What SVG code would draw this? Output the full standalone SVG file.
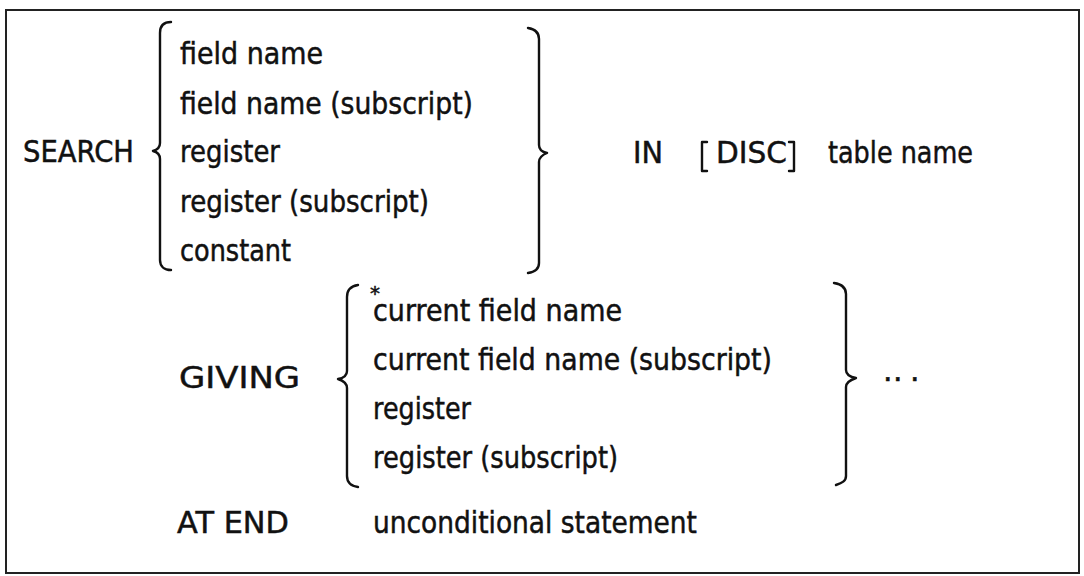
<svg xmlns="http://www.w3.org/2000/svg" width="1084" height="576" viewBox="0 0 1084 576">
<style>
text{font-family:"DejaVu Sans","Liberation Sans",sans-serif;font-size:30px;fill:#111;stroke:#111;stroke-width:0.5}
.br{fill:none;stroke:#111;stroke-width:2.4;stroke-linecap:round;stroke-linejoin:round}
.frame{fill:none;stroke:#222;stroke-width:2}
.ast{font-size:20px}
</style>
<rect class="frame" x="6" y="10" width="1073" height="563"/>
<g id="search">
<text x="23" y="162" textLength="111" lengthAdjust="spacingAndGlyphs">SEARCH</text>
</g>
<g id="search-options">
<path class="br" d="M171,22 C164,22 160,25 160,33 L160,143 C160,147 157,150 153,151 C157,152 160,155 160,159 L160,260 C160,266 164,270 171,270"/>
<text x="180" y="64" textLength="143" lengthAdjust="spacingAndGlyphs">field name</text>
<text x="180" y="114" textLength="293" lengthAdjust="spacingAndGlyphs">field name (subscript)</text>
<text x="180" y="162" textLength="100" lengthAdjust="spacingAndGlyphs">register</text>
<text x="180" y="212" textLength="249" lengthAdjust="spacingAndGlyphs">register (subscript)</text>
<text x="180" y="261" textLength="111" lengthAdjust="spacingAndGlyphs">constant</text>
<path class="br" d="M528,28 C535,29 539,32 539,39 L539,145 C539,149 542,152 547,153 C542,155 539,158 539,162 L539,263 C539,269 535,272 528,273"/>
</g>
<g id="in-clause">
<text x="633" y="163" textLength="30" lengthAdjust="spacingAndGlyphs">IN</text>
<path class="br" d="M707,142 L702,142 L702,171 L707,171"/>
<text x="716" y="163" textLength="71" lengthAdjust="spacingAndGlyphs">DISC</text>
<path class="br" d="M789,142 L794,142 L794,171 L789,171"/>
<text x="828" y="163" textLength="145" lengthAdjust="spacingAndGlyphs">table name</text>
</g>
<g id="giving">
<text x="179" y="388" textLength="121" lengthAdjust="spacingAndGlyphs">GIVING</text>
</g>
<g id="giving-options">
<path class="br" d="M358,285 C351,286 347,289 347,297 L347,371 C347,375 344,378 338,379 C344,381 347,384 347,388 L347,476 C347,483 351,486 358,487"/>
<text class="ast" x="370" y="300">*</text>
<text x="373" y="321" textLength="249" lengthAdjust="spacingAndGlyphs">current field name</text>
<text x="373" y="370" textLength="399" lengthAdjust="spacingAndGlyphs">current field name (subscript)</text>
<text x="373" y="419" textLength="98" lengthAdjust="spacingAndGlyphs">register</text>
<text x="373" y="468" textLength="245" lengthAdjust="spacingAndGlyphs">register (subscript)</text>
<path class="br" d="M834,283 C841,284 846,287 846,294 L846,370 C846,374 850,377 856,378 C850,380 846,383 846,387 L846,476 C846,481 842,483 836,485"/>
<text x="883 893 910" y="381">...</text>
</g>
<g id="at-end">
<text x="177" y="533" textLength="112" lengthAdjust="spacingAndGlyphs">AT END</text>
<text x="373" y="533" textLength="324" lengthAdjust="spacingAndGlyphs">unconditional statement</text>
</g>
</svg>
